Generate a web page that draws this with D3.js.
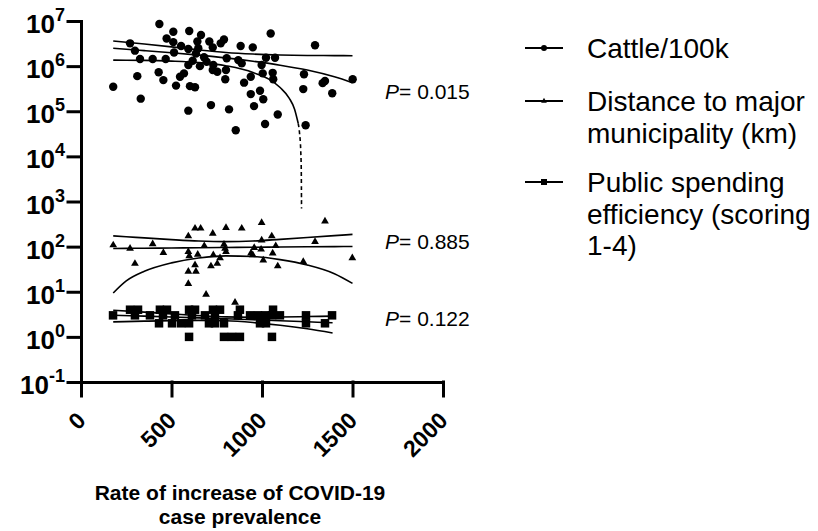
<!DOCTYPE html>
<html>
<head>
<meta charset="utf-8">
<script src="https://cdn.jsdelivr.net/npm/d3@7"></script>
<style>
  body { margin: 0; background: #ffffff; }
  text { font-family: "Liberation Sans", Arial, sans-serif; fill: #000; }
</style>
</head>
<body>
<div id="chart"></div>
<script>
// ---- data ----
const xTicks = [0, 500, 1000, 1500, 2000];
const yTicks = [1e-1, 1e0, 1e1, 1e2, 1e3, 1e4, 1e5, 1e6, 1e7];
const yTickExp = ["-1", "0", "1", "2", "3", "4", "5", "6", "7"];

const pLabels = ["0.015", "0.885", "0.122"];

// Cattle/100k
const cattleX = [178,271,298,311,326,330,396,433,429,455,468,473,510,510,514,525,547,553,569,593,598,593,602,630,593,617,635,643,648,657,663,680,694,709,718,728,728,731,753,772,790,797,801,805,818,855,869,882,888,901,938,938,949,956,989,998,1004,1007,1017,1022,1048,1059,1062,1072,1087,1232,1228,1241,1293,1335,1348,1388,1501];
const cattleY = [3.5e5,3.2e6,2.2e6,6.0e5,1.44e6,1.9e5,1.44e6,8.6e6,7.3e5,4.9e5,1.44e6,4.1e6,5.8e6,3.4e6,2.0e6,3.7e5,5.8e5,2.8e6,6.9e5,1.03e5,6.0e6,2.4e6,3.6e5,3.4e5,1.06e6,1.32e6,1.9e6,3.5e6,2.5e6,1.0e6,4.9e6,1.57e6,1.25e6,3.5e6,1.37e5,2.6e6,8.2e5,1.06e6,7.5e5,3.2e6,3.9e6,5.1e5,8.2e5,1.49e6,1.1e5,3.8e4,1.36e6,2.8e6,1.15e6,4.3e5,2.4e5,5.8e5,2.6e6,1.3e5,2.85e5,1.06e6,6.9e5,1.84e5,5.2e4,1.53e6,5.3e6,7.1e5,5.1e5,1.53e6,8.5e4,6.6e5,3.1e5,4.9e4,2.9e6,4.2e5,4.7e5,2.5e5,5.1e5];

// Distance to major municipality (km)
const distX = [178,271,298,396,455,593,593,598,593,593,630,661,645,630,635,691,681,728,731,718,753,768,790,796,801,801,851,888,939,949,957,998,998,995,1007,1054,1059,1076,1087,1228,1293,1348,1499];
const distY = [108,91,42,114,73,171,77,62,28,15,254,254,67,39,28,8.7,104,196,65,37,42,56,112,91,77,261,5.8,254,71,65,94,337,139,87,50,171,71,104,37,46,128,367,56];

// Public spending efficiency (scoring 1-4)
const spendX = [271,315,436,475,597,630,729,768,878,1061, 177,298,381,453,519,613,685,740,867,934,978,1017,1055,1099,1243,1387, 431,503,553,597,707,740,790,989,1022,1243,1348, 597,790,834,878,1055];
const spendY = [4,4,4,4,4,4,4,4,4,4, 3,3,3,3,3,3,3,3,3,3,3,3,3,3,3,3, 2,2,2,2,2,2,2,2,2,2,2, 1,1,1,1,1];

// regression lines and 95% bands
const fitX = [178, 250, 350, 500, 650, 800, 950, 1100, 1250, 1400, 1500];
const cattleFit = [2.48e6, 2.37e6, 2.21e6, 1.98e6, 1.75e6, 1.52e6, 1.28e6, 1.05e6, 8.2e5, 5.8e5, 4.3e5];
const cattleUpper = [3.60e6, 3.38e6, 3.09e6, 2.67e6, 2.29e6, 2.01e6, 1.85e6, 1.76e6, 1.72e6, 1.71e6, 1.70e6];
const cattleLowerX = [178, 250, 350, 500, 650, 800, 950, 1100, 1150, 1180, 1200];
const cattleLower = [1.36e6, 1.35e6, 1.34e6, 1.29e6, 1.20e6, 1.02e6, 7.2e5, 3.35e5, 1.96e5, 1.11e5, 5.4e4];
const cattleLowerDashX = [1200, 1208, 1214, 1217, 1218.4];
const cattleLowerDash = [5.4e4, 3.1e4, 1.34e4, 4.8e3, 7e2];

const distFit = [91.0, 91.5, 92.3, 93.4, 94.6, 95.7, 96.8, 98.0, 99.1, 100.2, 101.0];
const distUpper = [173, 166, 156, 143, 133, 129, 133, 145, 159, 175, 187];
const distLower = [9.4, 17.4, 28.4, 43.6, 56.0, 62.5, 60.4, 51.5, 39.1, 25.1, 15.3];

const spendFitX = [178, 350, 500, 650, 800, 950, 1100, 1250, 1390];
const spendFit = [3.02, 2.88, 2.76, 2.64, 2.52, 2.40, 2.28, 2.16, 2.05];
const spendUpper = [3.90, 3.54, 3.24, 2.96, 2.77, 2.72, 2.76, 2.82, 2.88];
const spendLower = [2.15, 2.23, 2.29, 2.32, 2.27, 2.08, 1.81, 1.51, 1.22];

// ---- layout ----
const W = 818, H = 531;
const plot = {left: 81, right: 443, top: 21, bottom: 382};

const svg = d3.select("#chart")
  .append("svg")
    .attr("width", W)
    .attr("height", H);

const x = d3.scaleLinear().domain([0, 2000]).range([plot.left, plot.right]);
const y = d3.scaleLog().domain([1e-1, 1e7]).range([plot.bottom, plot.top]);

// fit lines
const line = d3.line()
  .x(d => x(d[0]))
  .y(d => y(d[1]))
  .curve(d3.curveMonotoneX);

const fitLines = [
  [fitX, cattleFit], [fitX, cattleUpper], [cattleLowerX, cattleLower],
  [fitX, distFit], [fitX, distUpper], [fitX, distLower],
  [spendFitX, spendFit], [spendFitX, spendUpper], [spendFitX, spendLower]
];
svg.append("g")
  .selectAll("path")
  .data(fitLines)
  .join("path")
    .attr("d", d => line(d[0].map((v, i) => [v, d[1][i]])))
    .attr("fill", "none")
    .attr("stroke", "#000")
    .attr("stroke-width", 1.6);

svg.append("path")
  .attr("d", line(cattleLowerDashX.map((v, i) => [v, cattleLowerDash[i]])))
  .attr("fill", "none")
  .attr("stroke", "#000")
  .attr("stroke-width", 1.6)
  .attr("stroke-dasharray", "4,3");

// points
svg.append("g")
  .selectAll("circle")
  .data(cattleX.map((v, i) => [v, cattleY[i]]))
  .join("circle")
    .attr("cx", d => x(d[0]))
    .attr("cy", d => y(d[1]))
    .attr("r", 4.2)
    .attr("fill", "#000");

const tri = d3.symbol().type(d3.symbolTriangle).size(26);
svg.append("g")
  .selectAll("path")
  .data(distX.map((v, i) => [v, distY[i]]))
  .join("path")
    .attr("d", tri)
    .attr("transform", d => `translate(${x(d[0])},${y(d[1])})`)
    .attr("fill", "#000");

const sq = 8.5;
svg.append("g")
  .selectAll("rect")
  .data(spendX.map((v, i) => [v, spendY[i]]))
  .join("rect")
    .attr("x", d => x(d[0]) - sq / 2)
    .attr("y", d => y(d[1]) - sq / 2)
    .attr("width", sq)
    .attr("height", sq)
    .attr("fill", "#000");

// axes
const yAxis = svg.append("g")
  .attr("transform", `translate(${plot.left},0)`)
  .call(d3.axisLeft(y).tickValues(yTicks).tickSize(13).tickSizeOuter(0).tickFormat(""));
const xAxis = svg.append("g")
  .attr("transform", `translate(0,${plot.bottom})`)
  .call(d3.axisBottom(x).tickValues(xTicks).tickSize(14).tickSizeOuter(0).tickFormat(""));
[yAxis, xAxis].forEach(g => {
  g.selectAll("path, line").attr("stroke", "#000").attr("stroke-width", 3).attr("stroke-linecap", "square");
});

// y tick labels: 10 with superscript
const yLab = svg.append("g")
  .selectAll("text")
  .data(yTicks)
  .join("text")
    .attr("x", plot.left - 16)
    .attr("y", d => y(d) + 12)
    .attr("text-anchor", "end")
    .style("font-weight", "bold");
yLab.append("tspan").text("10").style("font-size", "26px");
yLab.append("tspan").text((d, i) => yTickExp[i]).style("font-size", "18px").attr("dy", -12);

// x tick labels, rotated
svg.append("g")
  .selectAll("text")
  .data(xTicks)
  .join("text")
    .attr("transform", d => `translate(${x(d) + 6},422) rotate(-45)`)
    .attr("text-anchor", "end")
    .style("font-size", "23px")
    .style("font-weight", "bold")
    .text(d => d);

// x title
const xTitle = svg.append("text")
  .attr("text-anchor", "middle")
  .style("font-size", "21px")
  .style("font-weight", "bold");
xTitle.append("tspan").attr("x", 240).attr("y", 500).text("Rate of increase of COVID-19");
xTitle.append("tspan").attr("x", 240).attr("y", 524).text("case prevalence");

// P values
const pY = [99, 249, 326];
const pTxt = svg.append("g")
  .selectAll("text")
  .data(pLabels)
  .join("text")
    .attr("x", 385)
    .attr("y", (d, i) => pY[i])
    .style("font-size", "21px");
pTxt.append("tspan").text("P").style("font-style", "italic");
pTxt.append("tspan").text("= ");
pTxt.append("tspan").text(d => d);

// legend
const legLines = [["Cattle/100k"], ["Distance to major", "municipality (km)"], ["Public spending", "efficiency (scoring", "1-4)"]];
const legY = [48, 101, 182];
const leg = svg.append("g");
legLines.forEach((rows, i) => {
  const ly = legY[i];
  leg.append("line").attr("x1", 525).attr("x2", 563).attr("y1", ly).attr("y2", ly)
    .attr("stroke", "#000").attr("stroke-width", 2);
  if (i === 0) leg.append("circle").attr("cx", 544).attr("cy", ly).attr("r", 3).attr("fill", "#000");
  if (i === 1) leg.append("path").attr("d", d3.symbol().type(d3.symbolTriangle).size(14)).attr("transform", `translate(544,${ly})`).attr("fill", "#000");
  if (i === 2) leg.append("rect").attr("x", 541).attr("y", ly - 3).attr("width", 6).attr("height", 6).attr("fill", "#000");
  rows.forEach((r, j) => {
    leg.append("text")
      .attr("x", 587)
      .attr("y", ly + 10 + j * 31.7)
      .style("font-size", "28px")
      .text(r);
  });
});
</script>
</body>
</html>
